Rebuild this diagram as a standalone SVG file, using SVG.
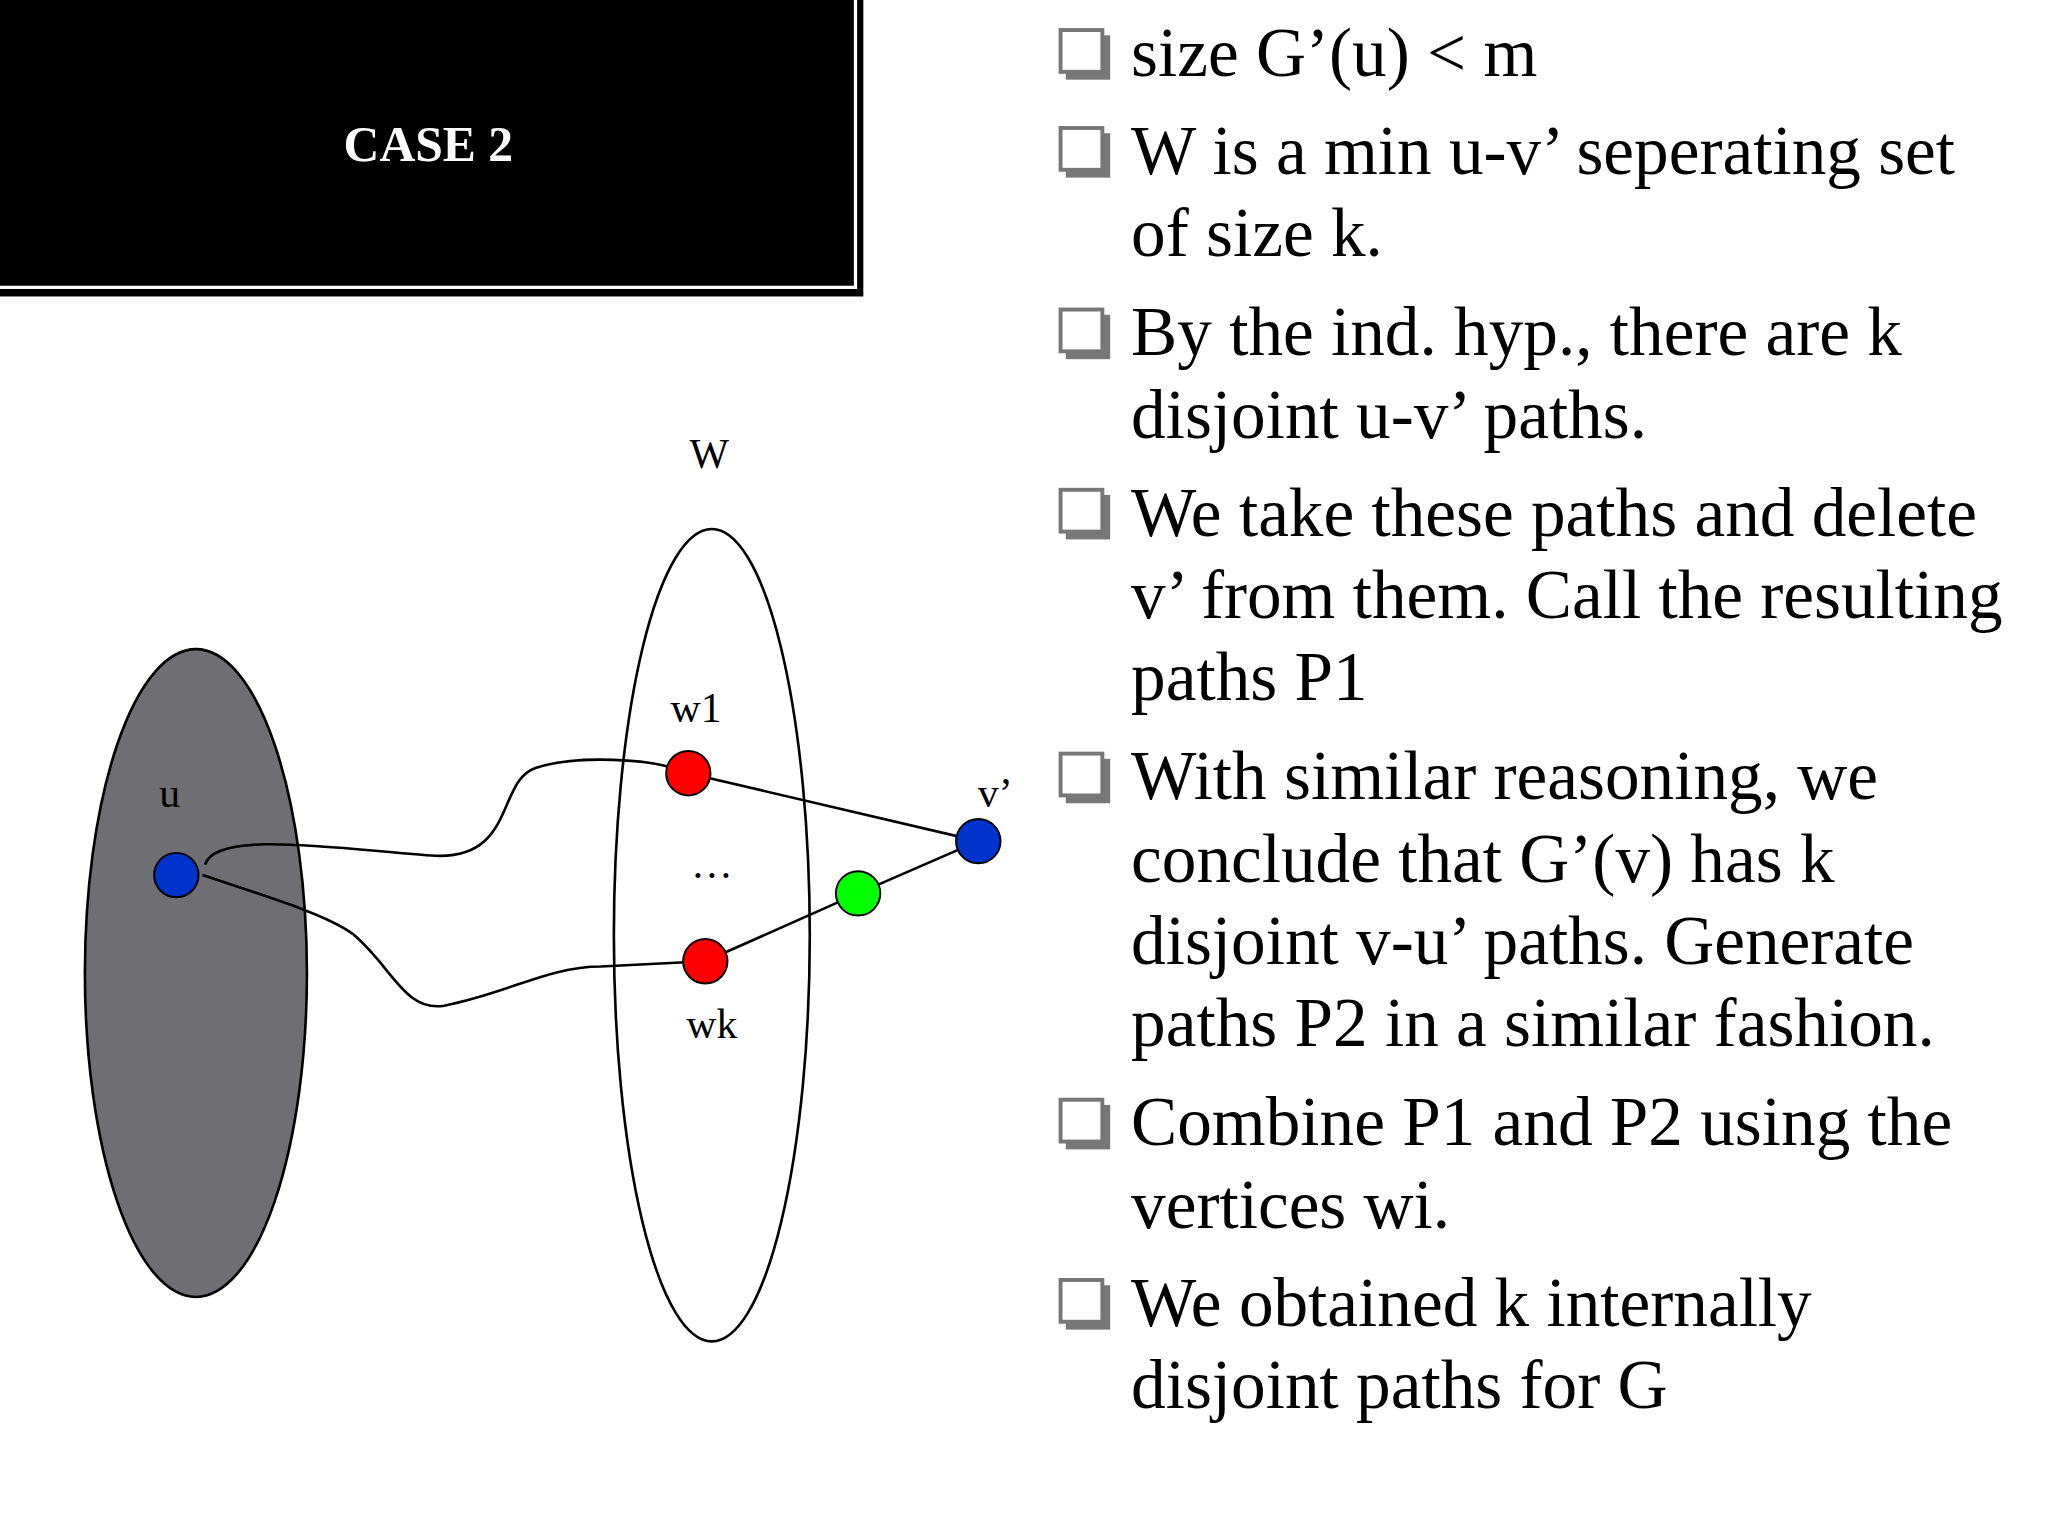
<svg xmlns="http://www.w3.org/2000/svg" width="2048" height="1536" viewBox="0 0 2048 1536">
<style>
.t{font-family:"Liberation Serif",serif;font-size:53px;fill:#000}
.l{font-family:"Liberation Serif",serif;font-size:32px;fill:#000}
.e{fill:none;stroke:#000;stroke-width:2}
.n{stroke:#000;stroke-width:1.5}
</style>
<defs>
<g id="cb"><rect x="4" y="4" width="34" height="34" fill="#777"/><rect x="0" y="0" width="32" height="32" fill="#fff" stroke="#777" stroke-width="3"/></g>
</defs>
<rect width="2048" height="1536" fill="#fff"/>
<g transform="scale(1.3061)">
<g id="title"><rect x="0" y="0" width="661" height="227" fill="#000"/><rect x="-2" y="-2" width="657" height="222" fill="none" stroke="#fff" stroke-width="2.5"/><text x="328" y="123" text-anchor="middle" style="font-family:'Liberation Serif',serif;font-size:38px;font-weight:bold;fill:#fff">CASE 2</text></g>
<g id="Gu"><ellipse cx="150" cy="745" rx="85" ry="248" fill="#6e6e73" stroke="#000" stroke-width="2"/><text class="l" x="130" y="618" text-anchor="middle">u</text></g>
<g id="W"><ellipse cx="545" cy="716" rx="75" ry="311" fill="#fff" stroke="#000" stroke-width="2"/><text class="l" x="543" y="358" text-anchor="middle">W</text><text class="l" x="545" y="672" text-anchor="middle">…</text></g>
<g id="edges">
<path class="e" d="M157,662 C165,635 260,650 330,655 C395,660 380,598 410,588 C440,578 500,580 527,592"/>
<path class="e" d="M155,670 C200,685 250,700 270,715 C300,740 310,775 340,770 C390,760 420,740 460,740 L540,736"/>
<path class="e" d="M527,592 L749,644"/>
<path class="e" d="M540,736 L657,684 L749,644"/>
</g>
<g id="u"><circle class="n" cx="135" cy="670" r="17" fill="#0033cc"/></g>
<g id="w1"><circle class="n" cx="527" cy="592" r="17" fill="#ff0000"/><text class="l" x="533" y="553" text-anchor="middle">w1</text></g>
<g id="wk"><circle class="n" cx="540" cy="736" r="17" fill="#ff0000"/><text class="l" x="545" y="795" text-anchor="middle">wk</text></g>
<g id="g"><circle class="n" cx="657" cy="684" r="17" fill="#00ff00"/></g>
<g id="v"><circle class="n" cx="749" cy="644" r="17" fill="#0033cc"/><text class="l" x="762" y="618" text-anchor="middle">v’</text></g>
<g id="text">
<use href="#cb" x="812" y="23"/><use href="#cb" x="812" y="98"/><use href="#cb" x="812" y="237"/><use href="#cb" x="812" y="375"/><use href="#cb" x="812" y="577"/><use href="#cb" x="812" y="842"/><use href="#cb" x="812" y="980"/>
<text class="t" x="866" y="58">size G’(u) &lt; m</text>
<text class="t" x="866" y="133">W is a min u-v’ seperating set</text>
<text class="t" x="866" y="196">of size k.</text>
<text class="t" x="866" y="272">By the ind. hyp., there are k</text>
<text class="t" x="866" y="335">disjoint u-v’ paths.</text>
<text class="t" x="866" y="410">We take these paths and delete</text>
<text class="t" x="866" y="473">v’ from them. Call the resulting</text>
<text class="t" x="866" y="536">paths P1</text>
<text class="t" x="866" y="612">With similar reasoning, we</text>
<text class="t" x="866" y="675">conclude that G’(v) has k</text>
<text class="t" x="866" y="738">disjoint v-u’ paths. Generate</text>
<text class="t" x="866" y="801">paths P2 in a similar fashion.</text>
<text class="t" x="866" y="877">Combine P1 and P2 using the</text>
<text class="t" x="866" y="940">vertices wi.</text>
<text class="t" x="866" y="1015">We obtained k internally</text>
<text class="t" x="866" y="1078">disjoint paths for G</text>
</g>
</g>
</svg>
